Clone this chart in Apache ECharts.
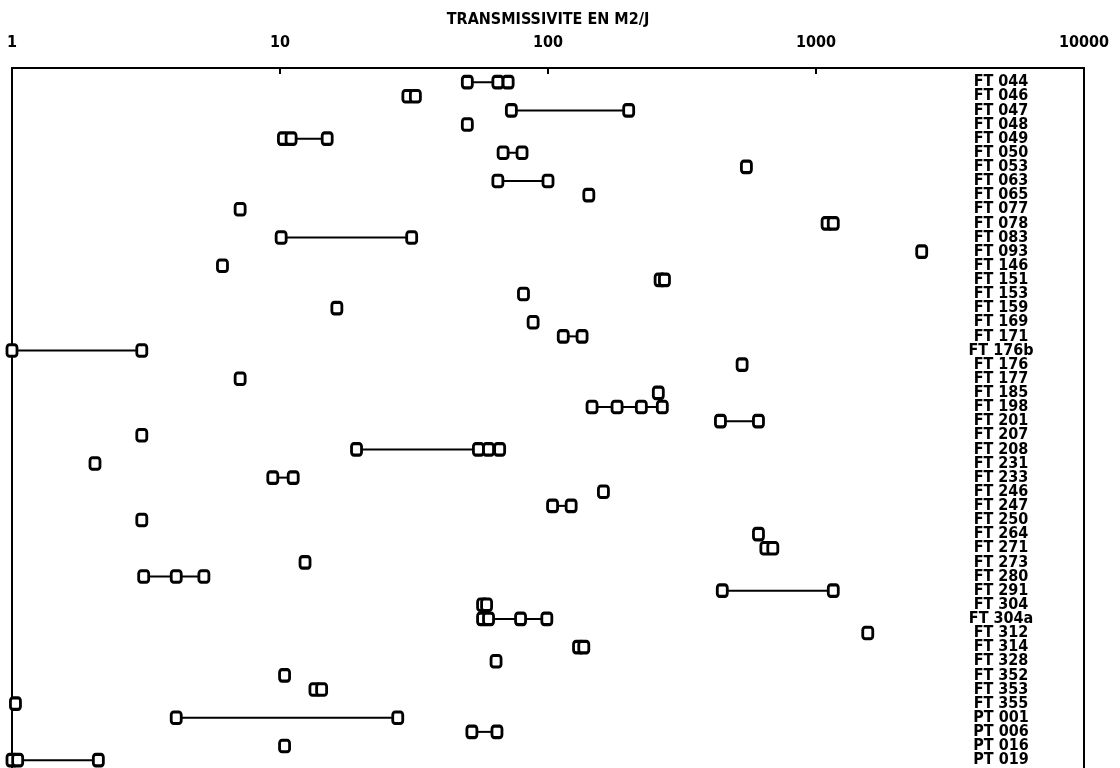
<!DOCTYPE html>
<html>
<head>
<meta charset="utf-8">
<script src="https://cdn.jsdelivr.net/npm/echarts@6/dist/echarts.min.js"></script>
<style>
  html, body { margin: 0; padding: 0; background: #fff; overflow: hidden; }
  #chart { width: 1120px; height: 780px; }
</style>
</head>
<body>
<div id="chart"></div>
<script>
// wells, top to bottom
const wells = [
  'FT 044', 'FT 046', 'FT 047', 'FT 048', 'FT 049', 'FT 050', 'FT 053', 'FT 063',
  'FT 065', 'FT 077', 'FT 078', 'FT 083', 'FT 093', 'FT 146', 'FT 151', 'FT 153',
  'FT 159', 'FT 169', 'FT 171', 'FT 176b', 'FT 176', 'FT 177', 'FT 185', 'FT 198',
  'FT 201', 'FT 207', 'FT 208', 'FT 231', 'FT 233', 'FT 246', 'FT 247', 'FT 250',
  'FT 264', 'FT 271', 'FT 273', 'FT 280', 'FT 291', 'FT 304', 'FT 304a', 'FT 312',
  'FT 314', 'FT 328', 'FT 352', 'FT 353', 'FT 355', 'PT 001', 'PT 006', 'PT 016',
  'PT 019',
];

// transmissivity measurements (m2/j) per well, same order
const transmissivity = [
  [50, 65, 71], [30, 32], [73, 200], [50], [10.3, 11, 15], [68, 80], [550], [65, 100],
  [142], [7.1], [1100, 1160], [10.1, 31], [2480], [6.1], [262, 272], [81],
  [16.3], [88], [114, 134], [1, 3.05], [530], [7.1], [258], [146, 181, 223, 267],
  [440, 610], [3.05], [19.3, 55, 60, 66], [2.04], [9.4, 11.2], [161], [104, 122], [3.05],
  [610], [650, 690], [12.4], [3.1, 4.1, 5.2], [447, 1160], [57, 59], [57, 60, 79, 99], [1560],
  [130, 136], [64], [10.4], [13.5, 14.3], [1.03], [4.1, 27.5], [52, 64.5], [10.4],
  [1, 1.05, 2.1],
];

const xTicks = [1, 10, 100, 1000, 10000];

const FONT = '"DejaVu Sans Condensed", "Liberation Sans Narrow", "DejaVu Sans", sans-serif';

const chart = echarts.init(document.getElementById('chart'));

const series = wells.map((name, i) => ({
  name,
  type: 'line',
  data: transmissivity[i].map(v => [v, i]),
  symbol: 'roundRect',
  symbolSize: [10, 11.5],
  showSymbol: true,
  clip: false,
  lineStyle: { color: '#000', width: 2 },
  itemStyle: { color: '#fff', borderColor: '#000', borderWidth: 3 },
  emphasis: { disabled: true },
}));

chart.setOption({
  animation: false,
  grid: {
    left: 12, right: 36, top: 68, bottom: 5.75,
    show: true, borderColor: '#000', borderWidth: 2,
  },
  xAxis: {
    type: 'log',
    logBase: 10,
    position: 'top',
    min: xTicks[0],
    max: xTicks[xTicks.length - 1],
    name: 'TRANSMISSIVITE EN M2/J',
    nameLocation: 'middle',
    nameGap: 40,
    nameTextStyle: { color: '#000', fontFamily: FONT, fontWeight: 'bold', fontSize: 16 },
    axisLine: { onZero: false, lineStyle: { color: '#000', width: 2 } },
    axisTick: { inside: true, length: 6, lineStyle: { color: '#000', width: 2 } },
    minorTick: { show: false },
    splitLine: { show: false },
    axisLabel: {
      margin: 17,
      color: '#000',
      fontFamily: FONT,
      fontWeight: 'bold',
      fontSize: 16,
      formatter: v => String(Math.round(v)),
    },
  },
  yAxis: {
    type: 'value',
    position: 'right',
    inverse: true,
    min: -1,
    max: 49,
    interval: 1,
    axisLine: { show: false },
    axisTick: { show: false },
    splitLine: { show: false },
    axisLabel: {
      inside: true,
      margin: 83,
      align: 'center',
      color: '#000',
      fontFamily: FONT,
      fontWeight: 'bold',
      fontSize: 16,
      formatter: v => wells[v] || '',
    },
  },
  series,
});

window.addEventListener('resize', () => chart.resize());
</script>
</body>
</html>
